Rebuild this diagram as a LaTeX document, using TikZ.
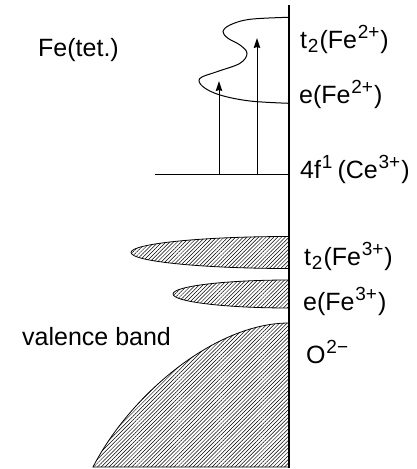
\documentclass[tikz,border=0pt]{standalone}
\usepackage{fontspec}
\setmainfont{Liberation Sans}
\usetikzlibrary{patterns.meta,arrows.meta}
\newcommand\supx[1]{\kern0.8pt\raisebox{9.5pt}{\fontsize{19}{19}\selectfont #1}\kern1pt}
\newcommand\subx[1]{\kern0.8pt\raisebox{-4pt}{\fontsize{19}{19}\selectfont #1}\kern1pt}
\begin{document}
\begin{tikzpicture}[x=1pt,y=-1pt,
  lbl/.style={anchor=base west, inner sep=0pt, font=\fontsize{25}{28}\selectfont},
  hatch/.style={draw, line width=0.8pt, pattern={Lines[angle=45,distance=2.7pt,line width=0.5pt]}},
  lvl/.style={line width=1pt},
  uparrow/.style={-{Stealth[length=10pt,width=6.5pt,inset=1pt]}, line width=1pt}]
\useasboundingbox (0,0) rectangle (417,469);
% labels
\node[lbl] (fetet) at (38,56) {Fe(tet.)};
\node[lbl] (vb) at (22,345) {valence band};
\node[lbl] (t2ii) at (300,48) {t\subx{2}(Fe\supx{2+})};
\node[lbl] (eii) at (299,103) {e(Fe\supx{2+})};
\node[lbl] (ce) at (300,178) {4f\supx{1}\,(Ce\supx{3+})};
\node[lbl] (t2iii) at (304,265) {t\subx{2}(Fe\supx{3+})};
\node[lbl] (eiii) at (303,310) {e(Fe\supx{3+})};
\node[lbl] (ox) at (306,363) {O\supx{2−}};
% bands
\begin{scope}
  \clip (0,0) rectangle (289,469);
  \path[hatch] (289,252.5) ellipse [x radius=158, y radius=16];
  \path[hatch] (289,294) ellipse [x radius=116, y radius=14];
\end{scope}
\path[hatch] (289,323) .. controls (215,323) and (130,395) .. (93,467) -- (289,467) -- cycle;
% Fe2+ curve
\draw[lvl] plot[smooth, tension=0.6] coordinates {(289,17.3) (250,19.3) (230,25) (223,31.7) (228,38.3) (240,45) (247,53.3) (240,63.3) (217,71.7) (200,78.3) (203,86.7) (220,95) (250,101) (289,103.3)};
% 4f level
\coordinate (fl) at (155,174);
\coordinate (fr) at (289,174);
\draw[lvl] (fl) -- (fr);
\coordinate (a1s) at (219,174);
\coordinate (a1e) at (219,81);
\coordinate (a2s) at (257,174);
\coordinate (a2e) at (257,38);
\draw[uparrow] (a1s) -- (a1e);
\draw[uparrow] (a2s) -- (a2e);
% axis
\coordinate (axtop) at (289,5);
\coordinate (axbot) at (289,468);
\draw[line width=1.4pt] (axtop) -- (axbot);
\end{tikzpicture}
\end{document}
